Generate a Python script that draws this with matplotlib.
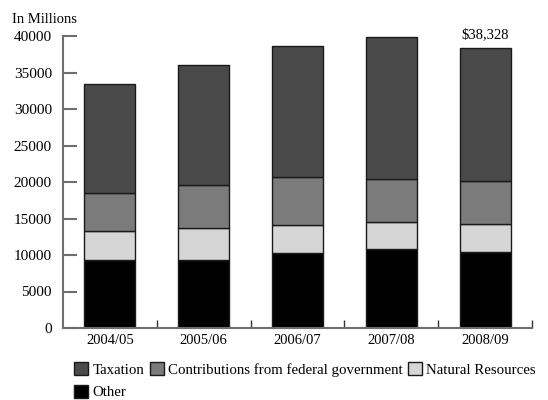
import matplotlib.pyplot as plt
import numpy as np

# Revenue by source, in millions
years = ['2004/05', '2005/06', '2006/07', '2007/08', '2008/09']
other = [9350, 9300, 10270, 10780, 10410]
natural_resources = [3900, 4440, 3880, 3700, 3790]
federal = [5240, 5850, 6490, 5970, 5980]
taxation = [14890, 16380, 18030, 19410, 18148]
total_label = '$38,328'

plt.rcParams['font.family'] = ['Liberation Serif', 'DejaVu Serif']
plt.rcParams['font.size'] = 11

fig = plt.figure(figsize=(5.48, 4.0), dpi=100)
ax = fig.add_axes([0.115, 0.18, 0.856, 0.73])

x = np.arange(len(years))
w = 0.545
edge = dict(edgecolor='#1a1a1a', linewidth=1.0)

b_other = ax.bar(x, other, w, color='#000000', **edge, label='Other')
base = np.array(other)
b_nat = ax.bar(x, natural_resources, w, bottom=base, color='#d6d6d6', **edge, label='Natural Resources')
base = base + np.array(natural_resources)
b_fed = ax.bar(x, federal, w, bottom=base, color='#7b7b7b', **edge, label='Contributions from federal government')
base = base + np.array(federal)
b_tax = ax.bar(x, taxation, w, bottom=base, color='#4a4a4a', **edge, label='Taxation')
totals = base + np.array(taxation)

ax.text(x[-1], totals[-1] + 900, total_label, ha='center', va='bottom', fontsize=10.5)

ax.set_xlim(-0.5, len(years) - 0.5)
ax.set_ylim(0, 40000)
ax.set_yticks(np.arange(0, 40001, 5000))
ax.set_xticks(x)
ax.set_xticklabels(years, fontsize=10.5)
ax.set_xticks(np.arange(0.5, len(years), 1.0), minor=True)

for s in ['top', 'right']:
    ax.spines[s].set_visible(False)
for s in ['left', 'bottom']:
    ax.spines[s].set_color('#6e6e6e')
    ax.spines[s].set_linewidth(1.5)

ax.tick_params(axis='y', direction='in', length=10, width=1.5, color='#6e6e6e', pad=8)
ax.tick_params(axis='x', which='major', length=0, pad=4)
ax.tick_params(axis='x', which='minor', direction='in', length=6, width=1.0, color='#333333')

fig.text(0.022, 0.952, 'In Millions', fontsize=10.5, va='center', ha='left')

handles = [b_tax, b_other, b_fed, b_nat]
labels = ['Taxation', 'Other', 'Contributions from federal government', 'Natural Resources']
fig.legend(handles, labels, ncol=3, loc='upper left', bbox_to_anchor=(0.135, 0.095),
           frameon=False, fontsize=10.7, handlelength=0.95, handleheight=0.95,
           handletextpad=0.3, columnspacing=0.35, labelspacing=0.55, borderpad=0, borderaxespad=0)

fig.savefig('out.png', dpi=100)
